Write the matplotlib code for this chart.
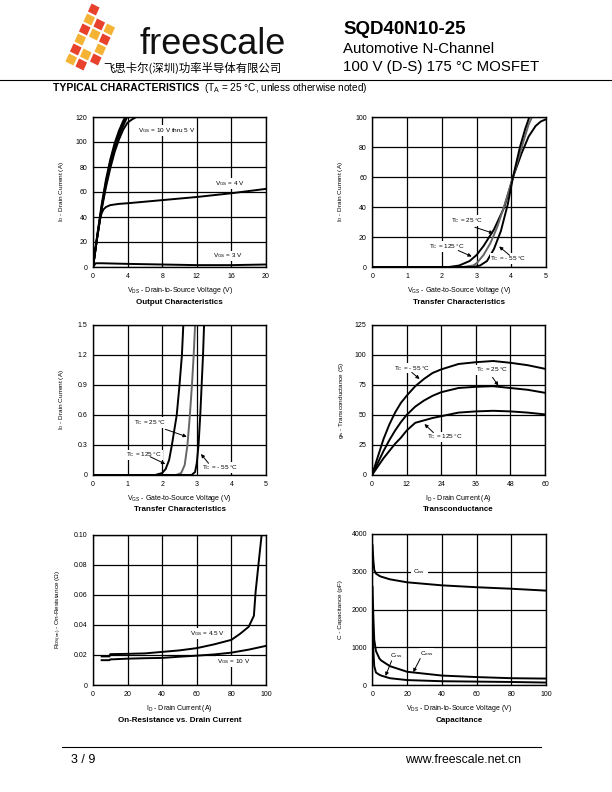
import numpy as np
import matplotlib
matplotlib.use('Agg')
import matplotlib.pyplot as plt
from matplotlib.patches import Polygon

plt.rcParams['font.family'] = ['Liberation Sans', 'DejaVu Sans']
plt.rcParams['mathtext.default'] = 'regular'

# Output Characteristics (VDS en V, ID en A)
out_x_10v = [0, 0.5, 1, 1.5, 2, 2.5, 3, 3.5, 3.75]
out_y_10v = [0, 26, 50, 70, 86, 99, 109, 117, 120]
out_x_7v = [0, 0.5, 1, 1.5, 2, 2.5, 3, 3.5, 3.85]
out_y_7v = [0, 25, 48, 68, 84, 97, 107, 115, 120]
out_x_6v = [0, 0.5, 1, 1.5, 2, 2.5, 3, 3.5, 3.95]
out_y_6v = [0, 24.5, 47, 66, 82, 95, 105, 113, 120]
out_x_5v = [0, 0.5, 1, 1.5, 2, 2.5, 3, 3.5, 4, 4.5, 5]
out_y_5v = [0, 24, 46, 64, 79, 92, 102, 110, 115.5, 118, 120]
out_x_4v = [0, 0.4, 0.8, 1.0, 1.2, 1.5, 2, 3, 4, 8, 12, 16, 20]
out_y_4v = [0, 20, 38, 43, 46, 48, 49.5, 50.5, 51, 53.5, 56, 59, 62.5]
out_x_3v = [0, 0.3, 1, 4, 8, 12, 16, 20]
out_y_3v = [0, 3, 3, 2.5, 2, 1.5, 1.5, 2]

# Transfer Characteristics (VGS en V, ID en A)
tr_x_125 = [0, 2.2, 2.5, 2.8, 3.0, 3.2, 3.5, 3.8, 4.05, 4.3, 4.5, 4.7, 4.85, 5.0]
tr_y_125 = [0, 0, 1, 4, 8, 14, 25, 40, 60, 76, 87, 94, 97, 98.5]
tr_x_25 = [0, 2.6, 2.9, 3.0, 3.2, 3.4, 3.6, 3.8, 4.05, 4.3, 4.5, 4.6]
tr_y_25 = [0, 0, 1, 2.5, 8, 16, 27, 41, 60, 80, 95, 100]
tr_x_m55 = [0, 2.9, 3.1, 3.3, 3.5, 3.7, 3.9, 4.05, 4.25, 4.4, 4.52]
tr_y_m55 = [0, 0, 1, 4, 12, 24, 42, 60, 80, 92, 100]

# Transfer Characteristics, baja corriente
lo_x_125 = [0, 1.8, 2.0, 2.1, 2.2, 2.28, 2.35, 2.42, 2.5, 2.57, 2.61]
lo_y_125 = [0, 0, 0.02, 0.06, 0.15, 0.3, 0.45, 0.6, 0.9, 1.2, 1.5]
lo_x_25 = [0, 2.4, 2.55, 2.65, 2.73, 2.8, 2.86, 2.91, 2.95]
lo_y_25 = [0, 0, 0.02, 0.1, 0.3, 0.6, 0.9, 1.2, 1.5]
lo_x_m55 = [0, 2.85, 2.95, 3.0, 3.05, 3.1, 3.14, 3.18, 3.21]
lo_y_m55 = [0, 0, 0.03, 0.12, 0.3, 0.6, 0.9, 1.2, 1.5]

# Transconductance (ID en A, gfs en S)
gfs_x = [0, 2, 4, 6, 8, 10, 12, 15, 18, 21, 24, 30, 36, 42, 48, 54, 60]
gfs_m55 = [0, 15, 30, 42, 52, 60, 66, 74, 80, 85, 88, 92.5, 94, 95, 93.5, 91.5, 88.5]
gfs_25 = [0, 10, 20, 29, 37, 44, 50, 57, 62, 66, 69, 72.5, 73.5, 74, 72.5, 71, 68.5]
gfs_125 = [0, 7, 14, 20, 26, 31, 37, 43.5, 45.5, 47.5, 49, 52, 53, 53.5, 53, 52, 50.5]

# On-Resistance vs. Drain Current (ID en A, RDS(on) en ohm)
ron_x_45 = [5, 9.5, 10, 20, 30, 40, 50, 60, 70, 80, 85, 90, 93, 94, 95, 96, 97.5]
ron_y_45 = [0.019, 0.019, 0.0205, 0.0207, 0.021, 0.022, 0.023, 0.0245, 0.027, 0.030, 0.034, 0.0387, 0.046, 0.062, 0.073, 0.084, 0.100]
ron_x_10 = [5, 9.5, 10, 20, 30, 40, 50, 60, 70, 80, 90, 100]
ron_y_10 = [0.0165, 0.0165, 0.017, 0.0175, 0.0178, 0.018, 0.0188, 0.0195, 0.0203, 0.0215, 0.0235, 0.026]

# Capacitance (VDS en V, C en pF)
cap_x = [0, 0.5, 1, 2, 4, 5, 10, 20, 40, 60, 80, 100]
cap_ciss = [3700, 3300, 3050, 2950, 2890, 2870, 2800, 2720, 2640, 2590, 2550, 2500]
cap_coss = [2600, 1800, 1200, 900, 700, 650, 500, 350, 250, 210, 180, 170]
cap_crss = [1500, 900, 500, 330, 270, 250, 180, 130, 100, 90, 80, 65]

# ---------------- figura ----------------
fig = plt.figure(figsize=(6.12, 7.92), dpi=100)
W, H = 612.0, 792.0

# capa de página en coordenadas de píxel
page = fig.add_axes([0, 0, 1, 1], zorder=-1)
page.set_xlim(0, W)
page.set_ylim(H, 0)
page.axis('off')

# logotipo: banda de cuadros rojo/naranja
u = np.array([10.0, 5.0])
v = np.array([-4.5, 10.0])
origen = np.array([91.0, 2.0])
for r in range(6):
    for c in range(3):
        if (r, c) in [(0, 2), (5, 2), (0, 1), (3, 1)]:
            continue
        p = origen + r * v + c * u
        color = '#e8412c' if (r + c) % 2 == 0 else '#f5b335'
        q = p + 0.1 * (u + v)
        page.add_patch(Polygon([q, q + 0.8 * u, q + 0.8 * (u + v), q + 0.8 * v],
                               closed=True, facecolor=color, edgecolor='none'))

page.text(139, 54, 'freescale', fontsize=26, color='#111111', va='baseline', ha='left')
page.text(103, 67.5, '飞思卡尔(深圳)功率半导体有限公司', fontsize=8.2, va='center', ha='left',
          family=['Noto Sans CJK SC', 'DejaVu Sans'])

page.text(343, 30, 'SQD40N10-25', fontsize=13.5, fontweight='bold', va='center', ha='left')
page.text(343, 49, 'Automotive N-Channel', fontsize=10.8, va='center', ha='left')
page.text(343, 67, '100 V (D-S) 175 °C MOSFET', fontsize=10.8, va='center', ha='left')
page.plot([0, W], [79.5, 79.5], color='k', lw=0.8)

page.text(53, 88, 'TYPICAL CHARACTERISTICS', fontsize=7.5, fontweight='bold', va='center', ha='left')
page.text(204, 88, '(T$_A$ = 25 °C, unless otherwise noted)', fontsize=7.2, va='center', ha='left')

# pie de página
page.plot([62, 541], [747, 747], color='k', lw=0.8)
page.text(71, 760, '3 / 9', fontsize=9, va='center', ha='left')
page.text(521, 760, 'www.freescale.net.cn', fontsize=8.8, va='center', ha='right')


def nuevo_panel(left, top, right, bottom, xlim, ylim, xticks, yticks, xlabels, ylabels,
                xlabel, ylabel, titulo, ylab_off):
    ax = fig.add_axes([left / W, 1 - bottom / H, (right - left) / W, (bottom - top) / H])
    ax.set_xlim(*xlim)
    ax.set_ylim(*ylim)
    ax.set_xticks(xticks)
    ax.set_yticks(yticks)
    ax.set_xticklabels(xlabels)
    ax.set_yticklabels(ylabels)
    ax.tick_params(length=0, labelsize=5, pad=4)
    ax.grid(True, color='k', lw=0.9)
    for s in ax.spines.values():
        s.set_linewidth(1.0)
    ancho = right - left
    alto = bottom - top
    ax.text(0.5, -24 / alto, xlabel, transform=ax.transAxes, fontsize=5, ha='center', va='center')
    ax.text(0.5, -35 / alto, titulo, transform=ax.transAxes, fontsize=5.8, fontweight='bold',
            ha='center', va='center')
    ax.text(-ylab_off / ancho, 0.5, ylabel, transform=ax.transAxes, fontsize=4.6, rotation=90,
            ha='center', va='center')
    return ax


caja = dict(facecolor='white', edgecolor='none', pad=0.6)
flecha = dict(arrowstyle='-|>', color='k', lw=0.7, mutation_scale=5, shrinkA=0, shrinkB=0)
LW = 1.4

# 1) Output Characteristics
ax1 = nuevo_panel(93, 117, 266, 267, (0, 20), (0, 120), [0, 4, 8, 12, 16, 20],
                  [0, 20, 40, 60, 80, 100, 120], ['0', '4', '8', '12', '16', '20'],
                  ['0', '20', '40', '60', '80', '100', '120'],
                  'V$_{DS}$ - Drain-to-Source Voltage (V)', 'I$_D$ - Drain Current (A)',
                  'Output Characteristics', 31)
for xs, ys in [(out_x_10v, out_y_10v), (out_x_7v, out_y_7v), (out_x_6v, out_y_6v),
               (out_x_5v, out_y_5v), (out_x_4v, out_y_4v), (out_x_3v, out_y_3v)]:
    ax1.plot(xs, ys, color='k', lw=LW, clip_on=True)
ax1.text(5.15, 109, 'V$_{GS}$ = 10 V thru 5 V', fontsize=4.6, va='center', bbox=caja)
ax1.text(14.1, 67, 'V$_{GS}$ = 4 V', fontsize=4.6, va='center', bbox=caja)
ax1.text(13.9, 8.8, 'V$_{GS}$ = 3 V', fontsize=4.6, va='center', bbox=caja)

# 2) Transfer Characteristics
ax2 = nuevo_panel(372.5, 117, 546, 267, (0, 5), (0, 100), [0, 1, 2, 3, 4, 5],
                  [0, 20, 40, 60, 80, 100], ['0', '1', '2', '3', '4', '5'],
                  ['0', '20', '40', '60', '80', '100'],
                  'V$_{GS}$ - Gate-to-Source Voltage (V)', 'I$_D$ - Drain Current (A)',
                  'Transfer Characteristics', 32)
ax2.plot(tr_x_125, tr_y_125, color='k', lw=LW)
ax2.plot(tr_x_25, tr_y_25, color='#666666', lw=LW)
ax2.plot(tr_x_m55, tr_y_m55, color='k', lw=LW)
ax2.text(2.26, 31, 'T$_C$ = 25 °C', fontsize=4.6, va='center', bbox=caja)
ax2.annotate('', xy=(3.48, 22.5), xytext=(2.95, 26.5), arrowprops=flecha)
ax2.text(1.62, 13.7, 'T$_C$ = 125 °C', fontsize=4.6, va='center', bbox=caja)
ax2.annotate('', xy=(2.86, 7), xytext=(2.47, 11), arrowprops=flecha)
ax2.text(3.4, 5.5, 'T$_C$ = - 55 °C', fontsize=4.6, va='center', bbox=caja)
ax2.annotate('', xy=(3.65, 13.7), xytext=(3.95, 7.8), arrowprops=flecha)

# 3) Transfer Characteristics (baja corriente)
ax3 = nuevo_panel(93, 325, 266, 475, (0, 5), (0, 1.5), [0, 1, 2, 3, 4, 5],
                  [0, 0.3, 0.6, 0.9, 1.2, 1.5], ['0', '1', '2', '3', '4', '5'],
                  ['0', '0.3', '0.6', '0.9', '1.2', '1.5'],
                  'V$_{GS}$ - Gate-to-Source Voltage (V)', 'I$_D$ - Drain Current (A)',
                  'Transfer Characteristics', 31)
ax3.plot(lo_x_125, lo_y_125, color='k', lw=LW)
ax3.plot(lo_x_25, lo_y_25, color='#666666', lw=LW)
ax3.plot(lo_x_m55, lo_y_m55, color='k', lw=LW)
ax3.text(1.19, 0.527, 'T$_C$ = 25 °C', fontsize=4.6, va='center', bbox=caja)
ax3.annotate('', xy=(2.71, 0.383), xytext=(2.09, 0.457), arrowprops=flecha)
ax3.text(0.96, 0.2, 'T$_C$ = 125 °C', fontsize=4.6, va='center', bbox=caja)
ax3.annotate('', xy=(2.09, 0.11), xytext=(1.65, 0.183), arrowprops=flecha)
ax3.text(3.16, 0.077, 'T$_C$ = - 55 °C', fontsize=4.6, va='center', bbox=caja)
ax3.annotate('', xy=(3.12, 0.21), xytext=(3.34, 0.117), arrowprops=flecha)

# 4) Transconductance
ax4 = nuevo_panel(372, 325, 545, 475, (0, 60), (0, 125), [0, 12, 24, 36, 48, 60],
                  [0, 25, 50, 75, 100, 125], ['0', '12', '24', '36', '48', '60'],
                  ['0', '25', '50', '75', '100', '125'],
                  'I$_D$ - Drain Current (A)', 'g$_{fs}$ - Transconductance (S)',
                  'Transconductance', 30)
ax4.plot(gfs_x, gfs_m55, color='k', lw=LW)
ax4.plot(gfs_x, gfs_25, color='k', lw=LW)
ax4.plot(gfs_x, gfs_125, color='k', lw=LW)
ax4.text(7.7, 89, 'T$_C$ = - 55 °C', fontsize=4.6, va='center', bbox=caja)
ax4.annotate('', xy=(16.5, 80), xytext=(13.8, 85.5), arrowprops=flecha)
ax4.text(36, 87.5, 'T$_C$ = 25 °C', fontsize=4.6, va='center', bbox=caja)
ax4.annotate('', xy=(43.8, 74.5), xytext=(41.8, 81.4), arrowprops=flecha)
ax4.text(19, 31.7, 'T$_C$ = 125 °C', fontsize=4.6, va='center', bbox=caja)
ax4.annotate('', xy=(18.2, 42.5), xytext=(21.3, 35.3), arrowprops=flecha)

# 5) On-Resistance vs. Drain Current
ax5 = nuevo_panel(93, 534.5, 266, 685, (0, 100), (0, 0.10), [0, 20, 40, 60, 80, 100],
                  [0, 0.02, 0.04, 0.06, 0.08, 0.10], ['0', '20', '40', '60', '80', '100'],
                  ['0', '0.02', '0.04', '0.06', '0.08', '0.10'],
                  'I$_D$ - Drain Current (A)', 'R$_{DS(on)}$ - On-Resistance (Ω)',
                  'On-Resistance vs. Drain Current', 34)
ax5.plot(ron_x_45, ron_y_45, color='k', lw=LW)
ax5.plot(ron_x_10, ron_y_10, color='k', lw=LW)
ax5.text(55.8, 0.0343, 'V$_{GS}$ = 4.5 V', fontsize=4.6, va='center', bbox=caja)
ax5.text(71.5, 0.0155, 'V$_{GS}$ = 10 V', fontsize=4.6, va='center', bbox=caja)

# 6) Capacitance
ax6 = nuevo_panel(372.5, 534, 546, 685, (0, 100), (0, 4000), [0, 20, 40, 60, 80, 100],
                  [0, 1000, 2000, 3000, 4000], ['0', '20', '40', '60', '80', '100'],
                  ['0', '1000', '2000', '3000', '4000'],
                  'V$_{DS}$ - Drain-to-Source Voltage (V)', 'C - Capacitance (pF)',
                  'Capacitance', 32)
ax6.plot(cap_x, cap_ciss, color='k', lw=LW)
ax6.plot(cap_x, cap_coss, color='k', lw=LW)
ax6.plot(cap_x, cap_crss, color='k', lw=LW)
ax6.text(27, 3000, 'C$_{iss}$', fontsize=4.6, va='center', ha='center',
         bbox=dict(facecolor='white', edgecolor='none', pad=2))
ax6.text(13.5, 770, 'C$_{rss}$', fontsize=4.6, va='center', ha='center', bbox=caja)
ax6.annotate('', xy=(7.5, 240), xytext=(11, 640), arrowprops=flecha)
ax6.text(31, 830, 'C$_{oss}$', fontsize=4.6, va='center', ha='center', bbox=caja)
ax6.annotate('', xy=(23.5, 340), xytext=(27.5, 700), arrowprops=flecha)

fig.savefig('out.png', dpi=100, facecolor='white')
